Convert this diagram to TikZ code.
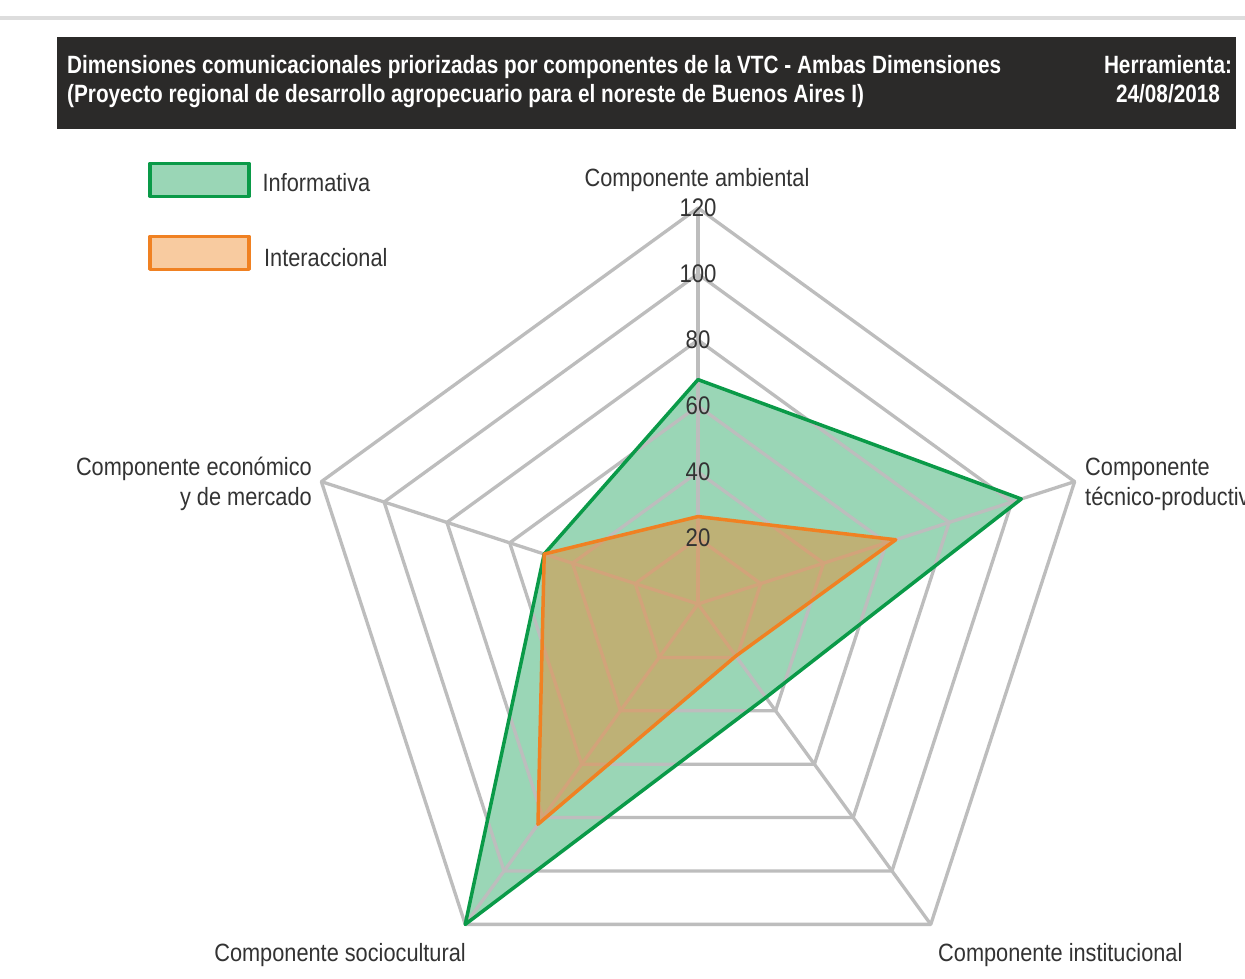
\documentclass[tikz,border=0pt]{standalone}
\usepackage{fontspec}
\setmainfont{Liberation Sans}[FakeStretch=0.87]
\newfontfamily\headfont{Liberation Sans}[FakeStretch=0.83]
\usetikzlibrary{calc}
\definecolor{gridgray}{HTML}{BDBDBD}
\definecolor{topgray}{HTML}{DDDDDD}
\definecolor{infoline}{HTML}{0A9A48}
\definecolor{infofill}{HTML}{9AD6B6}
\definecolor{interline}{HTML}{F08122}
\definecolor{interbase}{RGB}{240,128,30}
\definecolor{interfill}{HTML}{F8CBA0}
\definecolor{headbg}{HTML}{2B2A29}
\definecolor{txt}{HTML}{333333}
\begin{document}
\begin{tikzpicture}[x=1pt,y=-1pt,line join=round,
  gridline/.style={draw=gridgray,line width=3.3pt},
  infoshape/.style={draw=infoline,line width=3.5pt},
  intershape/.style={draw=interline,line width=3.5pt},
  lbl/.style={text=txt,inner sep=0pt,font=\fontsize{25}{30}\selectfont},
  ticklbl/.style={text=txt,inner sep=0pt,font=\fontsize{25.5}{30}\selectfont},
  headtxt/.style={text=white,inner sep=0pt,font=\headfont\bfseries\fontsize{25}{29}\selectfont},
  legendbox/.style={minimum width=99pt,minimum height=33pt,line width=3.3pt,inner sep=0pt}]
\useasboundingbox (0,0) rectangle (1245,979);
\fill[white] (0,0) rectangle (1245,979);
% top rule
\draw[topgray,line width=4pt] (0,18) -- (1245,18);
% header
\fill[headbg] (57,37) rectangle (1236,129);
\node[headtxt,anchor=base west] (h1) at (67,74) {Dimensiones comunicacionales priorizadas por componentes de la VTC - Ambas Dimensiones};
\node[headtxt,anchor=base west] (h2) at (67,103) {(Proyecto regional de desarrollo agropecuario para el noreste de Buenos Aires I)};
\node[headtxt,anchor=base] (h3) at (1168,74) {Herramienta:};
\node[headtxt,anchor=base] (h4) at (1168,103) {24/08/2018};
% legend
\node[legendbox,draw=infoline,fill=infofill] (lg1) at (199.5,179.7) {};
\node[lbl,anchor=base west] (lt1) at (262.5,191.7) {Informativa};
\node[legendbox,draw=interline,fill=interfill] (lg2) at (199.5,252.8) {};
\node[lbl,anchor=base west] (lt2) at (264,266.7) {Interaccional};
% chart
\coordinate (C) at (698,604);
\begin{scope}[shift={(C)}]
  % green fill (below grid)
  \fill[infofill] (-90:68*3.3) -- (-18:103*3.3) -- (54:35*3.3) -- (126:120*3.3) -- (198:49*3.3) -- cycle;
  % grid
  \foreach \k in {1,...,6}{
    \draw[gridline] (-90:66*\k) -- (-18:66*\k) -- (54:66*\k) -- (126:66*\k) -- (198:66*\k) -- cycle;
  }
  \foreach \a in {-90,-18,54,126,198}{
    \draw[gridline] (0,0) -- (\a:396);
  }
  % orange translucent fill
  \fill[interbase,fill opacity=0.42] (-90:26.5*3.3) -- (-18:63*3.3) -- (54:19.5*3.3) -- (126:82.5*3.3) -- (198:49*3.3) -- cycle;
  % outlines
  \draw[infoshape] (-90:68*3.3) -- (-18:103*3.3) -- (54:35*3.3) -- (126:120*3.3) -- (198:49*3.3) -- cycle;
  \draw[intershape] (-90:26.5*3.3) -- (-18:63*3.3) -- (54:19.5*3.3) -- (126:82.5*3.3) -- (198:49*3.3) -- cycle;
  % tick labels
  \foreach \v [count=\k] in {20,40,60,80,100,120}{
    \node[ticklbl] (t\v) at (-90:66*\k) {\v};
  }
\end{scope}
% axis labels
\node[lbl,anchor=base] (amb) at (697,186) {Componente ambiental};
\node[lbl,anchor=base west] (tec1) at (1085,475) {Componente};
\node[lbl,anchor=base west] (tec2) at (1085,505) {técnico-productivo};
\node[lbl,anchor=base east] (eco1) at (312,475) {Componente económico};
\node[lbl,anchor=base east] (eco2) at (312,505) {y de mercado};
\node[lbl,anchor=base east] (soc) at (466,961) {Componente sociocultural};
\node[lbl,anchor=base west] (inst) at (938,961) {Componente institucional};
\end{tikzpicture}
\end{document}
